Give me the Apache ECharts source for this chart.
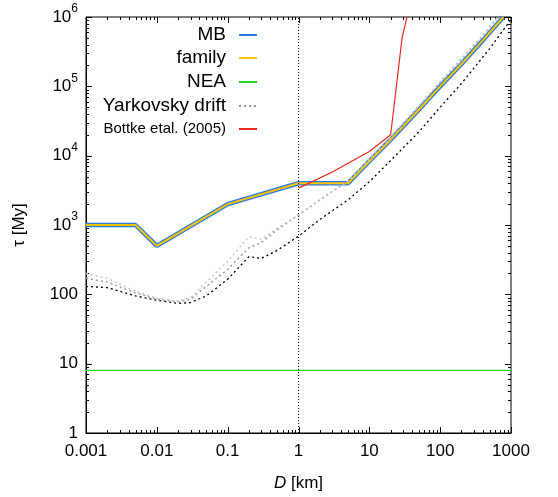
<!DOCTYPE html>
<html>
<head>
<meta charset="utf-8">
<script src="https://cdn.jsdelivr.net/npm/echarts@6/dist/echarts.min.js"></script>
<style>
html, body { margin: 0; padding: 0; background: #fff; }
#chart { width: 558px; height: 497px; }
</style>
</head>
<body>
<div id="chart"></div>
<script>
// 坐标刻度
const xTicks = [0.001, 0.01, 0.1, 1, 10, 100, 1000];
const yTicks = [1, 10, 100, 1e3, 1e4, 1e5, 1e6];

// MB / family
const mbD = [0.001, 0.005, 0.01, 0.1, 1, 5, 10, 20, 50, 100, 200, 400, 780];
const mbTau = [1000, 1000, 500, 2000, 4000, 4000, 8300, 17000, 46000, 100000, 210000, 460000, 1000000];

// NEA
const neaD = [0.001, 1000];
const neaTau = [8, 8];

// Yarkovsky drift (三条)
const yarkD = [0.001, 0.002, 0.005, 0.01, 0.02, 0.03, 0.05, 0.1, 0.2, 0.3, 0.5, 1, 2, 5, 10, 20, 50, 100, 200, 500, 1000];
const yarkBlack = [130, 125, 95, 82, 74, 76, 95, 165, 350, 330, 430, 690, 1200, 2300, 4200, 8500, 22000, 50000, 110000, 350000, 920000];
const yarkGrayD = [0.001, 0.002, 0.005, 0.01, 0.02, 0.03, 0.05, 0.1, 0.2, 0.3, 0.5, 1, 2, 5, 10, 20, 50, 100, 200, 400, 650];
const yarkLight = [200, 170, 110, 88, 80, 90, 150, 300, 680, 620, 900, 1400, 2300, 4300, 9000, 18500, 52000, 115000, 250000, 540000, 1000000];
const yarkMid = [170, 150, 105, 85, 78, 85, 130, 230, 470, 560, 850, 1400, 2300, 4300, 9000, 18500, 52000, 115000, 250000, 540000, 1000000];

// Bottke etal. (2005)
const bottkeD = [1, 3, 10, 20, 29, 34];
const bottkeTau = [3400, 5800, 11500, 20000, 500000, 1000000];

const font = 'Liberation Sans';

// 次刻度 2..9 x 10^k
function minorOf(ticks) {
    const out = [];
    for (let i = 0; i < ticks.length - 1; i++) {
        for (let k = 2; k <= 9; k++) out.push(+(ticks[i] * k).toPrecision(3));
    }
    return out;
}
const xMinor = minorOf(xTicks);
const yMinor = minorOf(yTicks);

function pairs(xs, ys) {
    return xs.map((x, i) => [x, ys[i]]);
}

function legendOf(name, top, size, lh) {
    return {
        data: [name], right: 300, top: top, padding: 0,
        orient: 'vertical', align: 'right',
        itemWidth: 18, itemHeight: 10,
        selectedMode: false,
        itemStyle: { opacity: 0 },
        textStyle: { fontFamily: font, fontSize: size, lineHeight: lh, color: '#000', padding: [0, 8, 0, 0] }
    };
}

function lineSeries(name, color, width, type, data) {
    return {
        name: name, type: 'line', symbol: 'none', silent: true,
        lineStyle: { color: color, width: width, type: type }, itemStyle: { color: color },
        data: data
    };
}

const nea = lineSeries('NEA', '#22dd22', 1.2, 'solid', pairs(neaD, neaTau));
nea.markLine = {
    silent: true, symbol: ['none', 'none'], label: { show: false },
    lineStyle: { color: '#000', type: [1, 2], width: 1 },
    data: [{ xAxis: 1 }]
};

const option = {
    animation: false,
    backgroundColor: '#fff',
    grid: {
        left: 86, right: 47, top: 17, bottom: 64,
        outerBoundsMode: 'none', containLabel: false,
        show: true, borderColor: '#000', borderWidth: 1
    },
    legend: [
        legendOf('MB', 25, 19, 20),
        legendOf('family', 48, 19, 20),
        legendOf('NEA', 72, 19, 20),
        legendOf('Yarkovsky drift', 96, 19, 20),
        legendOf('Bottke etal. (2005)', 121, 15, 16)
    ],
    xAxis: {
        type: 'log', min: 0.001, max: 1000,
        axisLine: { show: true, onZero: false, lineStyle: { color: '#000', width: 1 } },
        axisTick: { show: false },
        splitLine: { show: false },
        axisLabel: {
            customValues: xTicks, margin: 10,
            fontFamily: font, fontSize: 17, color: '#000',
            formatter: v => String(+v.toPrecision(3))
        },
        name: '{i|D} [km]', nameLocation: 'middle', nameGap: 42,
        nameTextStyle: {
            fontFamily: font, fontSize: 17, color: '#000',
            rich: { i: { fontFamily: font, fontSize: 17, fontStyle: 'italic', color: '#000' } }
        }
    },
    yAxis: {
        type: 'log', min: 1, max: 1e6,
        axisLine: { show: true, onZero: false, lineStyle: { color: '#000', width: 1 } },
        axisTick: { show: false },
        splitLine: { show: false },
        axisLabel: {
            customValues: yTicks, margin: 8,
            fontFamily: font, fontSize: 17, color: '#000', lineHeight: 28,
            formatter: v => {
                const e = Math.round(Math.log10(v));
                return e < 3 ? String(Math.round(v)) : '10{s|' + e + '}';
            },
            rich: { s: { fontFamily: font, fontSize: 12, color: '#000', verticalAlign: 'top', lineHeight: 12 } }
        },
        name: 'τ [My]', nameLocation: 'middle', nameRotate: 90, nameGap: 58,
        nameTextStyle: { fontFamily: font, fontSize: 17, color: '#000' }
    },
    series: [
        lineSeries('MB', '#2a7be4', 4.5, 'solid', pairs(mbD, mbTau)),
        lineSeries('family', '#ffc400', 2, 'solid', pairs(mbD, mbTau)),
        nea,
        lineSeries('Yarkovsky drift', '#999999', 1.5, [2, 3], pairs(yarkGrayD, yarkMid)),
        lineSeries('Yarkovsky light', '#c8c8c8', 1.5, [2, 3], pairs(yarkGrayD, yarkLight)),
        lineSeries('Yarkovsky black', '#000000', 1.3, [2, 3], pairs(yarkD, yarkBlack)),
        lineSeries('Bottke etal. (2005)', '#e8281e', 1.2, 'solid', pairs(bottkeD, bottkeTau))
    ]
};

const chart = echarts.init(document.getElementById('chart'));
chart.setOption(option);

// 四边刻度（主刻度 + 次刻度），位置由坐标轴换算
function tickLines() {
    const xl = chart.convertToPixel({ xAxisIndex: 0 }, 0.001);
    const xr = chart.convertToPixel({ xAxisIndex: 0 }, 1000);
    const yb = chart.convertToPixel({ yAxisIndex: 0 }, 1);
    const yt = chart.convertToPixel({ yAxisIndex: 0 }, 1e6);
    const els = [];
    const seg = (x1, y1, x2, y2) => els.push({
        type: 'line', silent: true,
        shape: { x1: x1, y1: y1, x2: x2, y2: y2 },
        style: { stroke: '#000', lineWidth: 1 }
    });
    xTicks.concat(xMinor).forEach(v => {
        const len = xTicks.indexOf(v) >= 0 ? 6 : 3;
        const px = Math.round(chart.convertToPixel({ xAxisIndex: 0 }, v)) + 0.5;
        seg(px, yb, px, yb - len);
        seg(px, yt, px, yt + len);
    });
    yTicks.concat(yMinor).forEach(v => {
        const len = yTicks.indexOf(v) >= 0 ? 6 : 3;
        const py = Math.round(chart.convertToPixel({ yAxisIndex: 0 }, v)) + 0.5;
        seg(xl, py, xl + len, py);
        seg(xr, py, xr - len, py);
    });
    return els;
}
chart.setOption({ graphic: tickLines() });
</script>
</body>
</html>
